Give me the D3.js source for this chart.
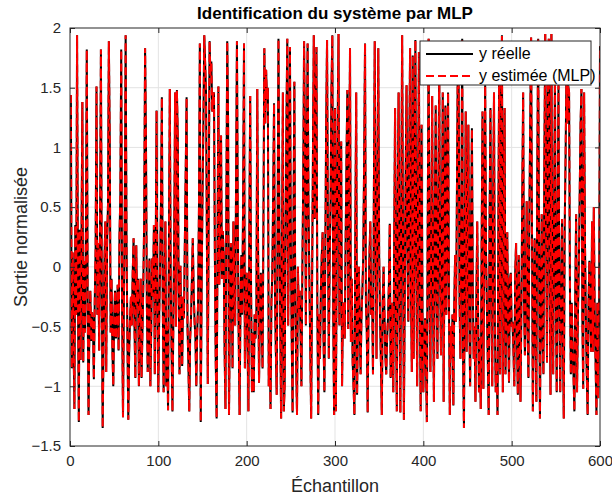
<!DOCTYPE html>
<html>
<head>
<meta charset="utf-8">
<script src="https://cdn.jsdelivr.net/npm/d3@7"></script>
<style>
  body { margin: 0; background: #fff; }
  svg { font-family: "Liberation Sans", Arial, sans-serif; }
  .axis text { font-size: 15px; fill: #262626; }
  .axis line, .axis path { stroke: #262626; }
  .grid line { stroke: #e3e3e3; }
</style>
</head>
<body>
<svg id="chart" width="612" height="497"></svg>
<script>

// tick labels
var xTicks = [0, 100, 200, 300, 400, 500, 600];
var yTicks = [-1.5, -1, -0.5, 0, 0.5, 1, 1.5, 2];

// y réelle, samples 1..600
var yReelle = [
  1.44, -0.85, 0.12, -0.62, -1.19, 0.35, -0.40, 1.94, -0.20, -1.30,
  0.31, -0.78, 0.22, 1.38, -0.80, 0.05, -0.55, 0.28, 1.82, -0.30,
  -1.24, -0.45, -0.20, -0.62, -0.38, -0.50, -0.94, -0.30, 0.15, 1.51,
  -0.40, 0.20, -0.70, 0.30, 1.82, -0.20, -1.35, -0.60, 0.05, 0.38,
  -0.88, 0.20, 0.52, 1.89, 1.06, -0.55, -0.10, -0.70, -1.00, -0.43,
  -0.20, -0.60, -0.43, -0.15, -0.70, 0.25, 0.60, 1.82, -0.35, -1.26,
  -0.30, 0.45, 1.94, 0.20, -0.60, -1.28, -0.70, -0.43, -0.25, -0.49,
  -0.05, 0.24, -0.50, -0.93, 0.18, -0.35, -0.10, -1.00, -0.45, -0.10,
  -0.93, -0.55, -0.15, 0.40, 1.83, 1.07, -0.30, -0.88, -0.40, 0.07,
  -1.00, -0.50, 0.07, -0.25, 0.35, -0.90, 0.10, 1.31, -0.35, -1.05,
  -0.40, 0.00, 0.55, 1.42, -0.30, -1.05, -0.20, 0.38, -1.00, -0.50,
  -1.20, 0.20, 1.49, -0.10, -0.70, -1.21, -0.46, 0.30, 1.46, -0.50,
  1.48, 1.10, -0.20, -0.90, 0.01, -0.55, -0.83, -0.25, -0.43, 0.20,
  0.80, 1.42, -0.49, -0.80, -1.21, -0.60, -0.43, -0.10, 0.24, -0.20,
  -0.45, -0.60, -1.00, -0.55, -0.30, 0.50, 1.87, -1.30, -0.20, 0.60,
  1.19, 1.94, 1.70, 1.46, 0.20, -0.98, 0.40, 1.89, 1.60, 1.72,
  1.30, 1.43, 1.46, 0.10, -0.80, -1.27, 0.20, 1.51, -0.15, 0.40,
  1.10, -0.10, 0.30, 0.10, -0.70, -1.19, 0.50, 1.89, 1.20, -1.24,
  -0.40, 0.20, 0.01, -0.85, 0.38, -0.20, -0.49, 0.70, 1.89, 0.30,
  -0.60, -1.24, -0.30, 0.10, -0.40, 0.60, 1.87, -0.85, -0.30, -0.05,
  -0.60, -1.21, 0.30, 1.43, -0.20, -1.05, -0.55, -1.05, -0.40, -0.60,
  -0.35, 1.49, 0.10, -0.97, -0.40, -0.05, -0.50, -0.85, 0.40, 1.83,
  1.20, 1.65, 1.40, 1.50, -1.00, -0.60, -1.19, -0.30, -0.07, 0.60,
  1.37, -0.20, -0.70, -1.07, 0.30, 1.91, 0.40, -0.49, -1.27, 0.20,
  1.46, -1.21, -1.00, 0.20, 1.20, 1.91, -0.49, 0.50, 1.84, 0.20,
  -0.60, -1.22, 0.40, 1.55, -0.30, -0.80, -1.24, 0.00, -0.40, -0.20,
  -0.55, -1.00, -0.05, 0.70, 1.89, 1.10, -0.49, 0.80, 1.87, 0.50,
  -0.10, -0.70, -1.27, -0.20, 0.90, 1.94, 0.40, 1.20, 1.84, -0.30,
  -1.24, -0.40, -0.77, -0.20, 0.10, 0.29, -0.60, -1.05, 0.10, 1.20,
  1.90, 0.30, -0.77, 0.10, 0.55, 1.50, 1.94, -0.40, -1.24, 1.33,
  -1.21, 0.20, 1.20, 1.95, -0.49, 0.40, 1.05, -1.00, -0.30, -0.33,
  -0.60, 0.20, 0.90, 1.48, -0.52, 0.70, 1.83, -0.63, -0.10, -0.80,
  -1.00, -1.24, 0.30, 1.46, -1.07, -0.40, 0.00, -0.50, -0.90, -0.40,
  -0.20, 0.10, 0.90, 1.87, -0.30, -0.55, -1.22, -0.30, 0.10, 0.38,
  -0.40, -0.20, -0.90, 0.60, 1.89, 0.20, -0.77, 0.70, 1.83, 0.10,
  -0.43, -0.80, -1.24, -0.30, 0.00, -0.40, -0.74, -0.90, -0.60, -0.43,
  -0.15, 0.36, -0.93, -0.77, -0.30, -1.05, 0.20, 1.33, -0.40, -1.21,
  0.60, 1.46, -0.30, -1.22, 0.50, 1.94, 0.20, -1.28, -0.20, 0.80,
  1.52, 0.10, -0.46, 0.90, 1.83, -0.20, -0.88, 1.77, -0.77, 0.50,
  1.90, 0.10, -1.00, 0.60, 1.80, -0.30, -1.21, 1.19, -0.40, -1.05,
  -0.60, -0.43, -0.80, -1.30, 0.40, 1.91, -0.20, -0.88, 0.30, 1.43,
  -0.30, -1.13, 0.40, 1.35, -0.20, -0.77, 0.60, 1.66, -0.10, -0.74,
  0.30, 1.46, -1.13, 0.20, 1.35, -0.40, 0.50, 1.46, -0.30, -1.24,
  -0.50, -0.77, -0.40, -1.16, -0.30, 0.10, -0.46, 0.60, 1.70, 1.50,
  -0.30, -0.77, 0.40, 1.91, -0.77, -1.35, 0.30, 1.30, -0.71, 0.20,
  1.19, -0.40, -1.00, 0.30, 1.16, -0.20, -0.77, -0.50, -1.13, -0.30,
  0.38, -0.40, -1.05, -0.60, -1.19, 0.20, 1.30, -1.02, 0.30, 1.52,
  0.10, -0.35, -0.80, -1.24, 0.40, 1.33, -0.30, -1.00, 0.50, 1.46,
  -0.50, -1.05, -0.80, -1.24, 0.50, 1.85, -0.90, 1.05, 1.94, -1.05,
  0.30, 1.33, -0.90, -0.40, 0.29, -0.49, -0.97, -0.10, -0.05, -0.50,
  -0.46, -0.70, -1.00, -0.05, 0.20, -0.60, -1.07, 0.10, -0.40, -1.13,
  -0.35, 0.60, 1.46, -0.30, -0.74, -0.20, 0.55, -0.50, -0.93, 0.38,
  1.20, 1.92, 0.30, -1.21, -0.40, 0.24, -0.60, -1.13, 0.80, 1.91,
  0.20, -1.27, -0.30, 0.44, -0.60, -0.90, 0.90, 1.95, 0.30, -0.80,
  1.50, 1.91, -0.20, -1.07, 1.95, -0.30, -0.90, 0.40, 1.60, -0.20,
  -1.05, 0.30, 1.52, -0.40, -1.05, -0.20, 0.40, -0.60, -1.27, 0.30,
  0.90, 1.60, 1.20, 1.52, 1.46, -0.20, -0.90, -0.30, -0.70, -0.90,
  -1.21, -0.20, 0.44, -1.05, -0.40, 0.00, 0.60, 1.20, 1.49, -0.40,
  -1.02, 1.46, 0.20, -0.43, -0.90, -1.24, -0.30, 0.05, -0.40, -0.71,
  0.38, -0.71, 0.50, -0.40, -0.80, -1.24, -0.30, -1.10, -0.40, 1.85
];

// the MLP estimate lies on top of the real output everywhere in the picture
var yEstimee = yReelle;

var svg = d3.select('#chart');

var margin = {top: 28, right: 12, bottom: 51, left: 70},
    width = +svg.attr('width') - margin.left - margin.right,
    height = +svg.attr('height') - margin.top - margin.bottom;

var x = d3.scaleLinear().domain([0, 600]).range([0, width]);
var y = d3.scaleLinear().domain([-1.5, 2]).range([height, 0]);

var g = svg.append('g')
    .attr('transform', 'translate(' + margin.left + ',' + margin.top + ')');

// grid
g.append('g')
    .attr('class', 'grid')
    .selectAll('line.vx')
    .data(xTicks.slice(1, -1))
  .enter().append('line')
    .attr('x1', function(d) { return x(d); })
    .attr('x2', function(d) { return x(d); })
    .attr('y1', 0)
    .attr('y2', height);

g.append('g')
    .attr('class', 'grid')
    .selectAll('line.hy')
    .data(yTicks.slice(1, -1))
  .enter().append('line')
    .attr('x1', 0)
    .attr('x2', width)
    .attr('y1', function(d) { return y(d); })
    .attr('y2', function(d) { return y(d); });

g.append('clipPath')
    .attr('id', 'plot-clip')
  .append('rect')
    .attr('width', width)
    .attr('height', height);

var line = d3.line()
    .x(function(d, i) { return x(i + 1); })
    .y(function(d) { return y(d); });

var lines = g.append('g').attr('clip-path', 'url(#plot-clip)');

lines.append('path')
    .datum(yReelle)
    .attr('d', line)
    .attr('fill', 'none')
    .attr('stroke', '#000')
    .attr('stroke-width', 2);

lines.append('path')
    .datum(yEstimee)
    .attr('d', line)
    .attr('fill', 'none')
    .attr('stroke', '#ff0000')
    .attr('stroke-width', 2)
    .attr('stroke-dasharray', '8,4');

// axes, ticks inward on all four sides
var tickLen = 5;

g.append('g')
    .attr('class', 'axis')
    .attr('transform', 'translate(0,' + height + ')')
    .call(d3.axisBottom(x).tickValues(xTicks).tickSizeInner(-tickLen).tickSizeOuter(0).tickPadding(9))
    .select('.domain').remove();

g.append('g')
    .attr('class', 'axis')
    .call(d3.axisLeft(y).tickValues(yTicks).tickFormat(d3.format('')).tickSizeInner(-tickLen).tickSizeOuter(0).tickPadding(9))
    .select('.domain').remove();

g.append('g')
    .attr('class', 'axis')
    .call(d3.axisTop(x).tickValues(xTicks).tickSizeInner(-tickLen).tickSizeOuter(0).tickFormat(''))
    .select('.domain').remove();

g.append('g')
    .attr('class', 'axis')
    .attr('transform', 'translate(' + width + ',0)')
    .call(d3.axisRight(y).tickValues(yTicks).tickSizeInner(-tickLen).tickSizeOuter(0).tickFormat(''))
    .select('.domain').remove();

g.append('rect')
    .attr('width', width)
    .attr('height', height)
    .attr('fill', 'none')
    .attr('stroke', '#262626')
    .attr('stroke-width', 1);

// labels
svg.append('text')
    .attr('x', margin.left + width / 2)
    .attr('y', 19)
    .attr('text-anchor', 'middle')
    .style('font-size', '17px')
    .style('font-weight', 'bold')
    .text('Identification du système par MLP');

svg.append('text')
    .attr('x', margin.left + width / 2)
    .attr('y', 492)
    .attr('text-anchor', 'middle')
    .style('font-size', '18px')
    .attr('fill', '#262626')
    .text('Échantillon');

svg.append('text')
    .attr('transform', 'translate(27,' + (margin.top + height / 2) + ') rotate(-90)')
    .attr('text-anchor', 'middle')
    .style('font-size', '18px')
    .attr('fill', '#262626')
    .text('Sortie normalisée');

// legend
var legend = svg.append('g').attr('transform', 'translate(420,41)');

legend.append('rect')
    .attr('width', 171)
    .attr('height', 44)
    .attr('fill', '#fff')
    .attr('stroke', '#262626')
    .attr('stroke-width', 1);

var legendItems = [
    {label: 'y réelle', color: '#000', dash: null},
    {label: 'y estimée (MLP)', color: '#ff0000', dash: '8,4'}
];

legendItems.forEach(function(d, i) {
    var row = legend.append('g').attr('transform', 'translate(0,' + (13 + i * 22) + ')');
    row.append('line')
        .attr('x1', 6)
        .attr('x2', 53)
        .attr('stroke', d.color)
        .attr('stroke-width', 2)
        .attr('stroke-dasharray', d.dash);
    row.append('text')
        .attr('x', 59)
        .attr('y', 5)
        .style('font-size', '16px')
        .text(d.label);
});

</script>
</body>
</html>
